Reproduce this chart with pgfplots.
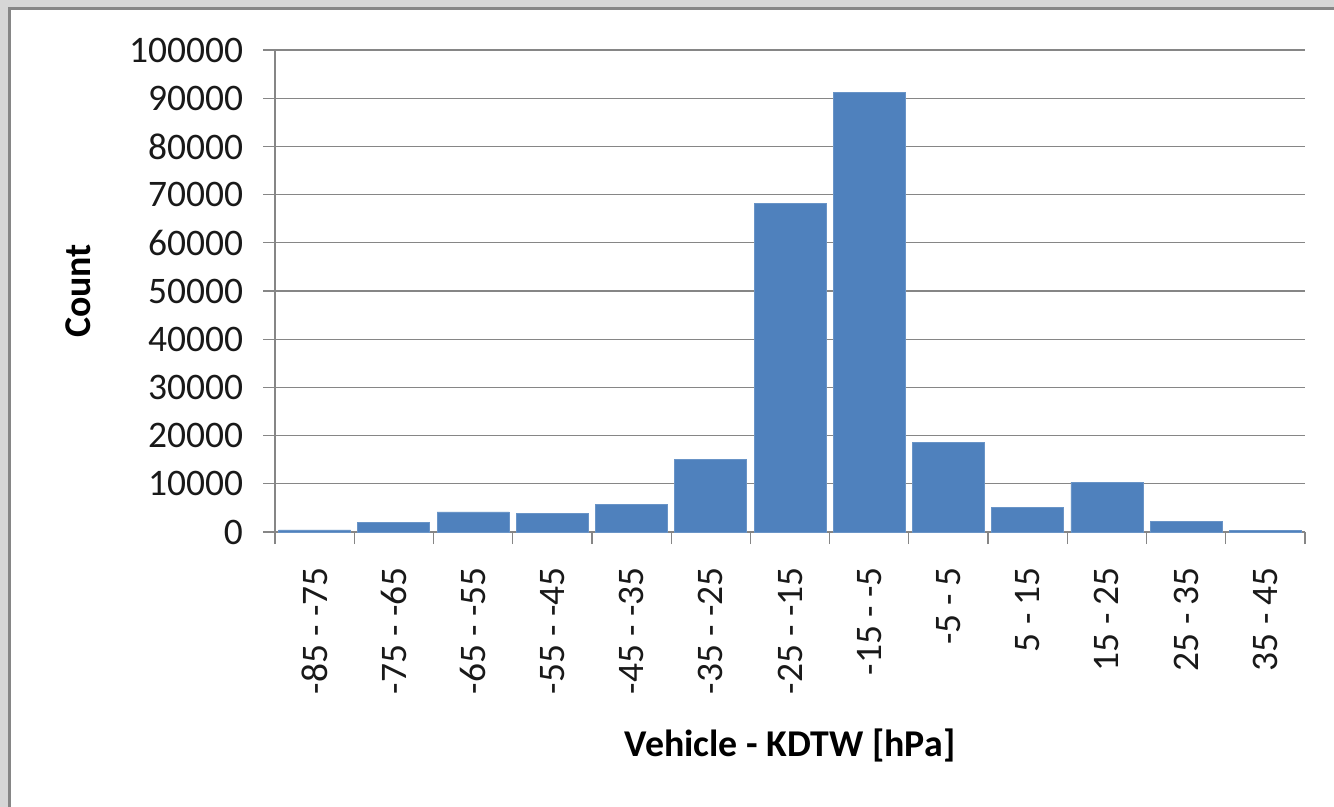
\documentclass[border=0pt]{standalone}
\usepackage{pgfplots}
\pgfplotsset{compat=1.18}
\usepackage{pgfplotstable}
\usepackage{fontspec}
\setmainfont{Carlito}
\definecolor{barblue}{RGB}{79,129,189}
\definecolor{gridgray}{RGB}{134,134,134}
\definecolor{bggray}{RGB}{214,214,214}
\pgfplotstableread{
x n
0 415
1 1930
2 4150
3 3800
4 5660
5 15100
6 68230
7 91200
8 18520
9 5180
10 10370
11 2280
12 350
}\data
\begin{document}
\begin{tikzpicture}
\useasboundingbox (0,0) rectangle (667bp,403.5bp);
\fill[bggray] (0,0) rectangle (667bp,403.5bp);
\fill[white] (4.5bp,-5bp) rectangle (675bp,399bp);
\draw[gridgray,line width=1.5bp] (4.5bp,-5bp) -- (4.5bp,399bp) -- (675bp,399bp);
\begin{axis}[
  at={(137.5bp,137.5bp)}, anchor=south west,
  scale only axis,
  width=515bp, height=241bp,
  xmin=-0.5, xmax=12.5,
  ymin=0, ymax=100000,
  ytick={0,10000,...,100000},
  xtick={0,...,12},
  xticklabels={-85 - -75,-75 - -65,-65 - -55,-55 - -45,-45 - -35,-35 - -25,-25 - -15,-15 - -5,-5 - 5,5 - 15,15 - 25,25 - 35,35 - 45},
  minor xtick={-0.5,0.5,...,12.5},
  axis lines*=left,
  axis line style={gridgray, line width=0.6bp},
  tick align=outside,
  major tick length=6bp,
  minor tick length=6bp,
  xtick style={draw=none},
  minor x tick style={draw=gridgray, line width=0.6bp},
  ytick style={gridgray, line width=0.6bp},
  ymajorgrids,
  grid style={gridgray, line width=0.6bp},
  scaled y ticks=false,
  /pgf/number format/assume math mode=true,
  yticklabel={\pgfmathprintnumber[fixed,1000 sep={}]{\tick}},
  tick label style={font=\fontsize{18.8}{22}\selectfont, text=black!90},
  xticklabel style={rotate=90, anchor=east, yshift=0bp, xshift=-8bp},
  yticklabel style={xshift=-6.5bp},
  xlabel={\textbf{Vehicle - KDTW [hPa]}},
  ylabel={\textbf{Count}},
  label style={font=\fontsize{19}{22}\selectfont},
  xlabel style={at={(rel axis cs:0.5,-0.442)}, anchor=center},
  ylabel style={at={(rel axis cs:-0.191,0.5)}, anchor=center, rotate=0},
  ybar, bar width=36bp,
  clip=false,
]
\addplot[fill=barblue, draw=barblue!85!white, line width=0.4bp] table[x=x,y=n] {\data};
\end{axis}
\end{tikzpicture}
\end{document}
